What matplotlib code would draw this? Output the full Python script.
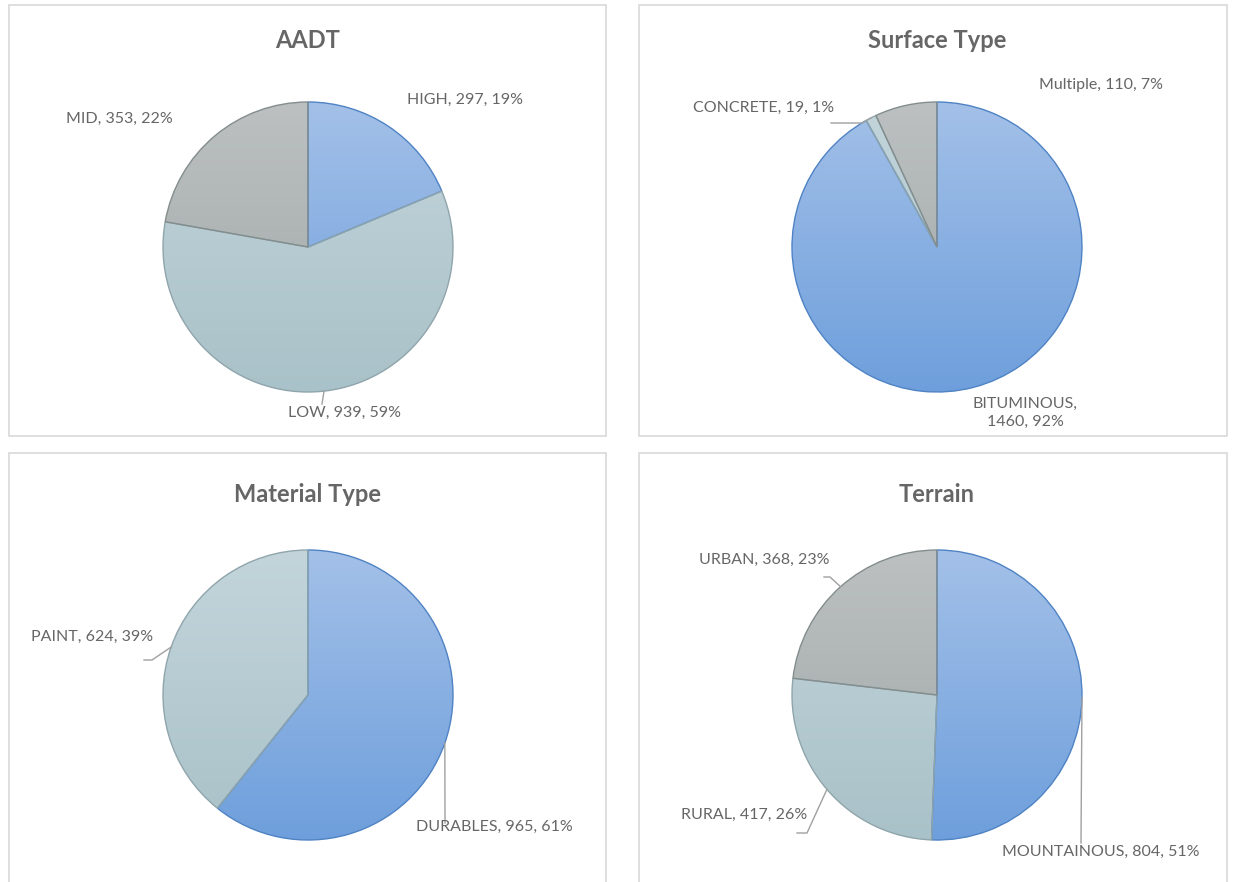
import numpy as np
import matplotlib.pyplot as plt
from matplotlib.colors import LinearSegmentedColormap
from matplotlib.patches import Rectangle

plt.rcParams['font.family'] = ['Lato', 'DejaVu Sans']

W, H = 1235, 882

# data
aadt_names = ['HIGH', 'LOW', 'MID']
aadt_values = [297, 939, 353]
surface_names = ['BITUMINOUS', 'CONCRETE', 'Multiple']
surface_values = [1460, 19, 110]
material_names = ['DURABLES', 'PAINT']
material_values = [965, 624]
terrain_names = ['MOUNTAINOUS', 'RURAL', 'URBAN']
terrain_values = [804, 417, 368]

titles = ['AADT', 'Surface Type', 'Material Type', 'Terrain']

# slice styling: (top colour, bottom colour, edge colour)
slice_styles = [
    ('#a3c0e8', '#6e9fdc', '#4f83c4'),
    ('#c3d5db', '#a9c1c8', '#8fa5ab'),
    ('#bcc0c0', '#a0a7a7', '#848d8d'),
]

text_col = '#666666'
line_col = '#a0a0a0'


def py(y):
    # image pixel row -> data y
    return H - y


fig = plt.figure(figsize=(W / 100, H / 100), dpi=100)
ax = fig.add_axes([0, 0, 1, 1])

# panel frames
panels = [(9, 5, 606, 436), (639, 5, 1227, 436),
          (9, 453, 606, 890), (639, 453, 1227, 890)]
for x0, y0, x1, y1 in panels:
    ax.add_patch(Rectangle((x0, py(y1)), x1 - x0, y1 - y0, fill=False,
                           edgecolor='#d9d9d9', lw=1.2, zorder=0))

charts = [
    dict(names=aadt_names, values=aadt_values, center=(308, 247), title_y=40,
         labels=[(407, 100, 'left'), (288, 413, 'left'), (66, 119, 'left')],
         leaders=[None, [(322, 404)], None]),
    dict(names=surface_names, values=surface_values, center=(937, 247), title_y=40,
         labels=[(1025, 413, 'center'), (693, 108, 'left'), (1039, 85, 'left')],
         leaders=[None, [(831, 123), (862, 123)], None]),
    dict(names=material_names, values=material_values, center=(308, 695), title_y=495,
         labels=[(416, 827, 'left'), (31, 637, 'left')],
         leaders=[[(445, 823)], [(144, 660), (152, 660)]]),
    dict(names=terrain_names, values=terrain_values, center=(937, 695), title_y=495,
         labels=[(1002, 852, 'left'), (681, 815, 'left'), (699, 560, 'left')],
         leaders=[[(1081, 843)], [(797, 833), (807, 833)], [(824, 577), (830, 577)]]),
]

R = 145
grad = np.linspace(0, 1, 256).reshape(-1, 1)

for chart, title in zip(charts, titles):
    cx, cy = chart['center']
    cy = py(cy)
    vals = chart['values']
    total = sum(vals)
    wedges, _ = ax.pie(vals, center=(cx, cy), radius=R, startangle=90,
                       counterclock=False, frame=True,
                       wedgeprops=dict(lw=1.0, zorder=3))
    for i, w in enumerate(wedges):
        top, bot, edge = slice_styles[i]
        w.set_facecolor('none')
        w.set_edgecolor(edge)
        cmap = LinearSegmentedColormap.from_list('g%d' % i, [top, bot])
        im = ax.imshow(grad, cmap=cmap, extent=[cx - R, cx + R, cy - R, cy + R],
                       origin='upper', aspect='auto', zorder=2, interpolation='bilinear')
        im.set_clip_path(w)

        name = chart['names'][i]
        pct = round(vals[i] / total * 100)
        if name == 'BITUMINOUS':
            txt = f'{name},\n{vals[i]}, {pct}%'
        else:
            txt = f'{name}, {vals[i]}, {pct}%'
        lx, ly, ha = chart['labels'][i]
        ax.text(lx, py(ly), txt, ha=ha, va='center', fontsize=11.5,
                color=text_col, linespacing=1.35, zorder=5)

        knees = chart['leaders'][i]
        if knees:
            mid = np.deg2rad((w.theta1 + w.theta2) / 2)
            ex, ey = cx + R * np.cos(mid), cy + R * np.sin(mid)
            xs = [k[0] for k in knees] + [ex]
            ys = [py(k[1]) for k in knees] + [ey]
            ax.plot(xs, ys, color=line_col, lw=1.0, zorder=4)

    ax.text(cx, py(chart['title_y']), title, ha='center', va='center',
            fontsize=17, fontweight='bold', color=text_col)

ax.set_xlim(0, W)
ax.set_ylim(0, H)
ax.set_aspect('auto')
ax.axis('off')

fig.savefig('out.png', dpi=100, facecolor='white')
